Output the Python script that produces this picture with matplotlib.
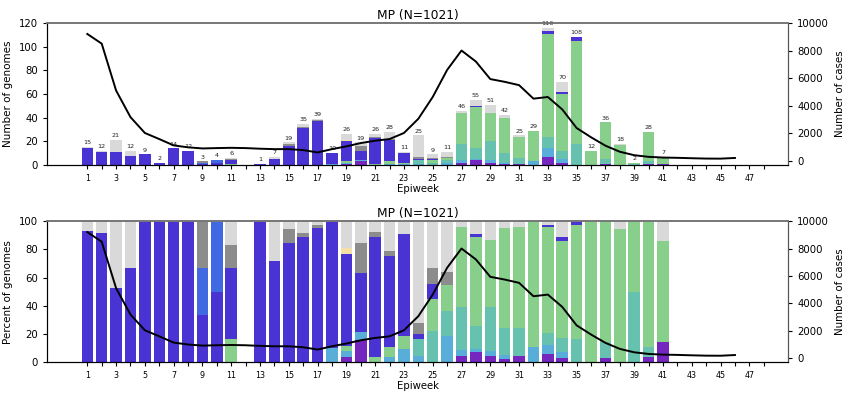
import matplotlib
matplotlib.use("Agg")
import matplotlib.pyplot as plt
import numpy as np

weeks = list(range(1, 42))
# lineage counts per epiweek (1..41)
purple = [0,0,0,0,0,0,0,0,0,0,0,0,0,0,0,0,0,0,1,3,0,0,0,0,0,0,2,4,2,1,1,0,7,2,0,0,1,0,0,1,1]
skyblue = [0,0,0,0,0,0,0,0,0,0,0,0,0,0,0,0,0,1,1,1,0,1,1,1,0,2,2,1,2,1,0,3,7,3,0,0,0,0,0,0,0]
teal = [0,0,0,0,0,0,0,0,0,0,0,0,0,0,0,0,0,0,0,0,0,0,0,3,2,2,14,9,16,8,5,0,10,7,18,0,4,0,1,2,0]
green = [0,0,0,0,0,0,0,0,0,0,1,0,0,0,0,0,0,0,1,0,1,2,1,0,2,2,26,35,24,30,18,26,87,48,87,12,31,17,1,25,5]
darkblue = [14,11,11,8,9,2,14,12,1,2,3,0,1,5,16,31,37,9,17,8,22,18,8,1,1,0,0,1,0,0,0,0,2,2,3,0,0,0,0,0,0]
royalblue = [0,0,0,0,0,0,0,0,1,2,0,0,0,0,0,0,0,0,0,0,0,0,0,0,0,0,0,0,0,0,0,0,0,0,0,0,0,0,0,0,0]
yellow = [0,0,0,0,0,0,0,0,0,0,0,0,0,0,0,0,0,0,1,0,0,0,0,0,0,0,0,0,0,0,0,0,0,0,0,0,0,0,0,0,0]
gray = [0,0,0,0,0,0,0,0,1,0,1,0,0,0,2,1,1,0,0,4,1,1,0,2,1,1,0,0,0,0,0,0,0,0,0,0,0,0,0,0,0]
lightgray = [1,1,10,4,0,0,0,0,0,0,1,0,0,2,1,3,1,0,5,3,2,6,1,18,3,4,2,5,7,2,1,0,3,8,0,0,0,1,0,0,1]

case_weeks = list(range(1, 47))
cases = [9200, 8500, 5100, 3170, 2020, 1580, 1120, 980, 900, 925, 945, 925, 880, 850, 850, 780, 610,
         850, 1050, 1290, 1460, 1580, 2020, 3050, 4630, 6590, 8000, 7200, 5930, 5730, 5490, 4510,
         4630, 3730, 2380, 1710, 1100, 660, 410, 290, 240, 220, 190, 165, 160, 210]

series = [purple, skyblue, teal, green, darkblue, royalblue, yellow, gray, lightgray]
colors = ["#7526BE", "#58AED8", "#66C2AE", "#88CF8C", "#4A33D3", "#4169E1", "#F3DFA8", "#8C8C8C", "#D9D9D9"]

counts = np.array(series, dtype=float)
totals = counts.sum(axis=0)
x = np.array(weeks)

fig = plt.figure(figsize=(8.5, 3.99), dpi=100)
ax1 = fig.add_axes([0.0553, 0.5865, 0.872, 0.356])
ax3 = fig.add_axes([0.0553, 0.0927, 0.872, 0.353])

def style(ax, axr):
    ax.set_xlim(-1.8, 49.7)
    ax.set_xticks(range(1, 49))
    ax.set_xticklabels([str(w) if w % 2 == 1 else "" for w in range(1, 49)], fontsize=5.8)
    ax.tick_params(axis="y", labelsize=7.3, length=3)
    ax.tick_params(axis="x", length=3)
    ax.set_xlabel("Epiweek", fontsize=7.3, labelpad=1)
    axr.set_ylim(-300, 10000)
    axr.set_yticks([0, 2000, 4000, 6000, 8000, 10000])
    axr.tick_params(axis="y", labelsize=7.3, length=3)
    axr.set_ylabel("Number of cases", fontsize=7.4)
    for a in (ax, axr):
        a.spines["top"].set_color("#777777")
        a.spines["top"].set_linewidth(1.2)
        a.spines["right"].set_color("#555555")
    ax.set_title("MP (N=1021)", fontsize=8.8, pad=3)

# top: counts
bottom = np.zeros(len(weeks))
for vals, c in zip(counts, colors):
    ax1.bar(x, vals, width=0.8, bottom=bottom, color=c, linewidth=0)
    bottom += vals
for w, t in zip(x, totals):
    if t > 0:
        ax1.text(w, t + 1.5, f"{int(t)}", ha="center", va="bottom", fontsize=4.6, color="#222222")
ax1.set_ylim(0, 120)
ax1.set_yticks(range(0, 121, 20))
ax1.set_ylabel("Number of genomes", fontsize=7.5)
ax2 = ax1.twinx()
ax2.plot(case_weeks, cases, color="black", lw=1.4)
style(ax1, ax2)

# bottom: percent
pct = np.divide(counts, totals, out=np.zeros_like(counts), where=totals > 0) * 100
bottom = np.zeros(len(weeks))
for vals, c in zip(pct, colors):
    ax3.bar(x, vals, width=0.8, bottom=bottom, color=c, linewidth=0)
    bottom += vals
ax3.set_ylim(0, 100)
ax3.set_yticks(range(0, 101, 20))
ax3.set_ylabel("Percent of genomes", fontsize=7.5)
ax4 = ax3.twinx()
ax4.plot(case_weeks, cases, color="black", lw=1.4)
style(ax3, ax4)

fig.savefig("out.png", dpi=100)
